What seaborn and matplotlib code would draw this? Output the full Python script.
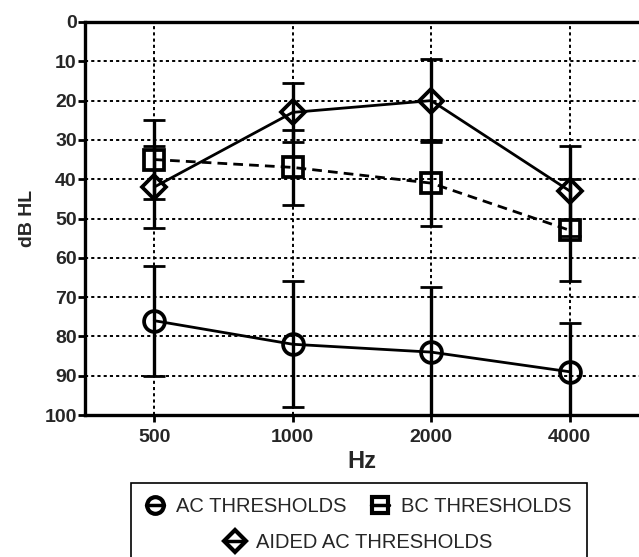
import numpy as np
import pandas as pd
import seaborn as sns
import matplotlib.pyplot as plt
from matplotlib.lines import Line2D
from matplotlib.patches import Rectangle

sns.set_style('white')
plt.rcParams['font.family'] = ['Liberation Sans', 'DejaVu Sans']

freqs = ['500', '1000', '2000', '4000']
ac = [76, 82, 84, 89]
ac_err = [14, 16, 16.5, 12.5]
bc = [35, 37, 41, 53]
bc_err = [10, 9.5, 11, 13]
aided = [42, 23, 20, 43]
aided_err = [10.5, 7.5, 10.5, 11.5]

pos = np.arange(len(freqs))
df = pd.DataFrame({'pos': pos, 'ac': ac, 'bc': bc, 'aided': aided})

fig = plt.figure(figsize=(6.39, 5.57), dpi=100)
ax = fig.add_axes([85/639, 1 - 415/557, 1 - 85/639, (415 - 22)/557])

series = [
    ('ac', ac_err, 'o', 15, '-'),
    ('bc', bc_err, 's', 14, (0, (3.5, 2.2))),
    ('aided', aided_err, 'D', 12.5, '-'),
]
for col, err, mk, ms, ls in series:
    ax.errorbar(df['pos'], df[col], yerr=err, fmt='none', ecolor='black',
                elinewidth=2.4, capsize=8, capthick=2, zorder=3)
    sns.lineplot(data=df, x='pos', y=col, ax=ax, color='black', linewidth=2,
                 linestyle=ls, marker=mk, markersize=ms, markerfacecolor='none',
                 markeredgecolor='black', markeredgewidth=2.7, zorder=4)

ax.set_xlim(-0.5, 3.5)
ax.set_ylim(100, 0)
ax.set_yticks(range(0, 101, 10))
ax.set_xticks(pos)
ax.set_xticklabels(freqs)
ax.grid(True, color='black', linestyle=(0, (1.6, 1.6)), linewidth=1.4)
ax.set_axisbelow(True)

for s in ['left', 'top', 'bottom']:
    ax.spines[s].set_linewidth(2.4)
    ax.spines[s].set_color('black')
ax.spines['right'].set_visible(False)

ax.tick_params(axis='both', direction='out', length=5, width=2, color='black',
               labelsize=14, left=True, bottom=True)
ax.tick_params(axis='x', pad=5)
ax.tick_params(axis='y', pad=1)
for lab in ax.get_xticklabels() + ax.get_yticklabels():
    lab.set_fontweight('bold')

ax.set_xlabel('Hz', fontsize=17, fontweight='bold', labelpad=3)
ax.set_ylabel('dB HL', fontsize=14, fontweight='bold', labelpad=6)

def handle(mk, ms):
    return Line2D([0], [0], color='black', linewidth=2.5, marker=mk, markersize=ms,
                  markerfacecolor='none', markeredgewidth=3)

leg1 = fig.legend([handle('o', 12), handle('s', 12)], ['AC THRESHOLDS', 'BC THRESHOLDS'],
                  loc='center', bbox_to_anchor=(359/639, 1 - 507/557), ncol=2,
                  frameon=False, fontsize=14.5, handlelength=0.9, handletextpad=0.6,
                  columnspacing=1.2)
leg2 = fig.legend([handle('D', 11)], ['AIDED AC THRESHOLDS'],
                  loc='center', bbox_to_anchor=(359/639, 1 - 543/557),
                  frameon=False, fontsize=14.5, handlelength=0.9, handletextpad=0.6)

fig.patches.append(Rectangle((131/639, -0.02), (587 - 131)/639, (557 - 483)/557 + 0.02,
                             transform=fig.transFigure, fill=False,
                             edgecolor='black', linewidth=1.2))

fig.savefig('out.png', dpi=100)
